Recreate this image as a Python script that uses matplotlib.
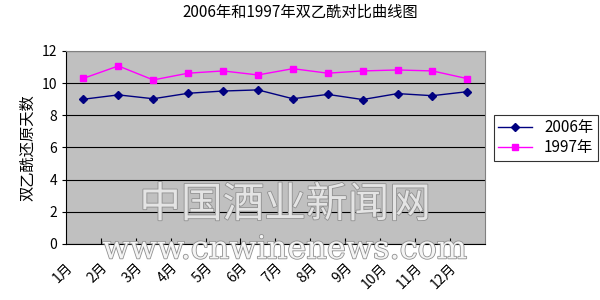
import matplotlib.pyplot as plt
import matplotlib.patheffects as pe
import matplotlib.transforms as mtransforms

plt.rcParams['font.family'] = ['Noto Sans CJK SC', 'DejaVu Sans']

# Data
months = ['1月', '2月', '3月', '4月', '5月', '6月', '7月', '8月', '9月', '10月', '11月', '12月']
y2006 = [9.0, 9.27, 9.03, 9.37, 9.51, 9.58, 9.03, 9.3, 8.98, 9.35, 9.22, 9.47]
y1997 = [10.3, 11.07, 10.2, 10.62, 10.76, 10.51, 10.9, 10.62, 10.76, 10.82, 10.76, 10.28]

fig = plt.figure(figsize=(6, 3), dpi=100)
ax = fig.add_axes([0.11, 0.187, 0.698, 0.643])
ax.set_facecolor('#C0C0C0')

x = list(range(len(months)))
ax.plot(x, y2006, color='#000080', marker='D', markersize=4, linewidth=1, label='2006年')
ax.plot(x, y1997, color='#FF00FF', marker='s', markersize=5, linewidth=1, label='1997年')

ax.set_xlim(-0.5, len(months) - 0.5)
ax.set_ylim(0, 12)
ax.set_yticks(range(0, 13, 2))
ax.yaxis.grid(True, color='black', linewidth=0.8)
ax.set_axisbelow(True)

# category boundary ticks, pointing inward like Excel
ax.set_xticks([i - 0.5 for i in range(1, len(months))], minor=False)
ax.set_xticklabels([])
ax.tick_params(axis='x', direction='in', length=4, color='black')
ax.set_xticks(x, minor=True)
ax.set_xticklabels(months, minor=True, rotation=45, ha='right', va='top', fontsize=10)
ax.tick_params(axis='x', which='minor', length=0, pad=12)
shift = mtransforms.ScaledTranslation(-8 / 100, 0, fig.dpi_scale_trans)
for lbl in ax.get_xticklabels(minor=True):
    lbl.set_transform(lbl.get_transform() + shift)
ax.tick_params(axis='y', labelsize=10, length=3, direction='out')

for side in ['top', 'right']:
    ax.spines[side].set_color('#808080')
for side in ['left', 'bottom']:
    ax.spines[side].set_color('black')

ax.set_ylabel('双乙酰还原天数', fontsize=11)
fig.text(0.5, 0.96, '2006年和1997年双乙酰对比曲线图', ha='center', va='center', fontsize=11)

leg = ax.legend(loc='center left', bbox_to_anchor=(1.003, 0.55), frameon=True, fancybox=False,
                fontsize=11, handlelength=2.2, borderpad=0.3, labelspacing=0.2)
leg.get_frame().set_edgecolor('black')
leg.get_frame().set_linewidth(0.8)

# watermark
outline = [pe.withStroke(linewidth=1.2, foreground='#909090')]
fig.text(0.475, 0.315, '中国酒业新闻网', ha='center', va='center', fontsize=30,
         color='#E4E4E4', path_effects=outline)
fig.text(0.475, 0.167, 'www.cnwinenews.com', ha='center', va='center', fontsize=23,
         color='#F4F4F4', path_effects=outline, family='DejaVu Serif')

fig.savefig('out.png', dpi=100)
